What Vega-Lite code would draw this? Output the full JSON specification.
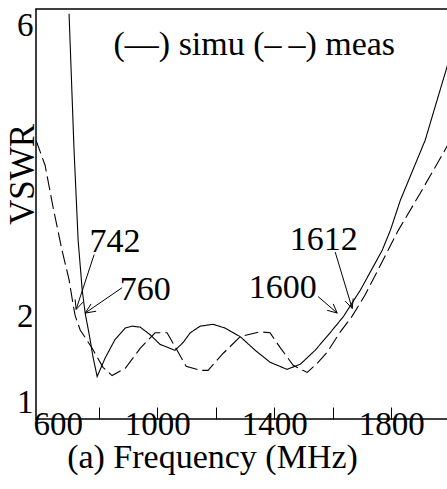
{
  "$schema": "https://vega.github.io/schema/vega-lite/v6.json",
  "autosize": {"type": "none"},
  "padding": {"left": 36, "top": 9, "right": 0, "bottom": 70},
  "width": 412,
  "height": 410,
  "background": "white",
  "config": {
    "view": {"stroke": "black", "strokeWidth": 1.5},
    "font": "'Liberation Serif', 'DejaVu Serif', serif"
  },
  "datasets": {
    "curves": [
      {"series": "simu", "f": 699, "v": 5.93},
      {"series": "simu", "f": 716, "v": 4.01},
      {"series": "simu", "f": 730, "v": 2.87},
      {"series": "simu", "f": 744, "v": 2.29},
      {"series": "simu", "f": 754, "v": 2.04},
      {"series": "simu", "f": 768, "v": 1.81},
      {"series": "simu", "f": 781, "v": 1.58},
      {"series": "simu", "f": 795, "v": 1.39},
      {"series": "simu", "f": 822, "v": 1.57},
      {"series": "simu", "f": 856, "v": 1.76},
      {"series": "simu", "f": 891, "v": 1.88},
      {"series": "simu", "f": 914, "v": 1.9},
      {"series": "simu", "f": 942, "v": 1.89},
      {"series": "simu", "f": 976, "v": 1.81},
      {"series": "simu", "f": 1010, "v": 1.71},
      {"series": "simu", "f": 1061, "v": 1.65},
      {"series": "simu", "f": 1089, "v": 1.73},
      {"series": "simu", "f": 1113, "v": 1.83},
      {"series": "simu", "f": 1147, "v": 1.9},
      {"series": "simu", "f": 1191, "v": 1.92},
      {"series": "simu", "f": 1232, "v": 1.88},
      {"series": "simu", "f": 1284, "v": 1.79},
      {"series": "simu", "f": 1335, "v": 1.65},
      {"series": "simu", "f": 1386, "v": 1.53},
      {"series": "simu", "f": 1444, "v": 1.46},
      {"series": "simu", "f": 1489, "v": 1.51},
      {"series": "simu", "f": 1540, "v": 1.65},
      {"series": "simu", "f": 1591, "v": 1.83},
      {"series": "simu", "f": 1636, "v": 2.0},
      {"series": "simu", "f": 1694, "v": 2.29},
      {"series": "simu", "f": 1769, "v": 2.75},
      {"series": "simu", "f": 1797, "v": 2.99},
      {"series": "simu", "f": 1831, "v": 3.36},
      {"series": "simu", "f": 1916, "v": 4.14},
      {"series": "simu", "f": 1957, "v": 4.69},
      {"series": "simu", "f": 1994, "v": 5.2},
      {"series": "meas", "f": 586, "v": 4.14},
      {"series": "meas", "f": 617, "v": 3.81},
      {"series": "meas", "f": 644, "v": 3.28},
      {"series": "meas", "f": 675, "v": 2.75},
      {"series": "meas", "f": 699, "v": 2.41},
      {"series": "meas", "f": 713, "v": 2.13},
      {"series": "meas", "f": 720, "v": 2.01},
      {"series": "meas", "f": 737, "v": 1.86},
      {"series": "meas", "f": 778, "v": 1.67},
      {"series": "meas", "f": 815, "v": 1.48},
      {"series": "meas", "f": 846, "v": 1.4},
      {"series": "meas", "f": 891, "v": 1.47},
      {"series": "meas", "f": 942, "v": 1.67},
      {"series": "meas", "f": 993, "v": 1.83},
      {"series": "meas", "f": 1034, "v": 1.83},
      {"series": "meas", "f": 1072, "v": 1.63},
      {"series": "meas", "f": 1099, "v": 1.49},
      {"series": "meas", "f": 1147, "v": 1.45},
      {"series": "meas", "f": 1174, "v": 1.45},
      {"series": "meas", "f": 1226, "v": 1.62},
      {"series": "meas", "f": 1284, "v": 1.79},
      {"series": "meas", "f": 1352, "v": 1.84},
      {"series": "meas", "f": 1386, "v": 1.83},
      {"series": "meas", "f": 1420, "v": 1.68},
      {"series": "meas", "f": 1465, "v": 1.5},
      {"series": "meas", "f": 1513, "v": 1.43},
      {"series": "meas", "f": 1547, "v": 1.52},
      {"series": "meas", "f": 1581, "v": 1.63},
      {"series": "meas", "f": 1626, "v": 1.84},
      {"series": "meas", "f": 1667, "v": 2.01},
      {"series": "meas", "f": 1711, "v": 2.24},
      {"series": "meas", "f": 1824, "v": 2.99},
      {"series": "meas", "f": 1899, "v": 3.45},
      {"series": "meas", "f": 1994, "v": 4.08}
    ],
    "arrows": [
      {"seg": "742s", "i": 0, "f": 784.6, "v": 2.7},
      {"seg": "742s", "i": 1, "f": 723.1, "v": 2.08},
      {"seg": "742h", "i": 0, "f": 747.0, "v": 2.16},
      {"seg": "742h", "i": 1, "f": 723.1, "v": 2.08},
      {"seg": "742h", "i": 2, "f": 719.7, "v": 2.19},
      {"seg": "760s", "i": 0, "f": 880.3, "v": 2.32},
      {"seg": "760s", "i": 1, "f": 753.8, "v": 2.04},
      {"seg": "760h", "i": 0, "f": 791.5, "v": 2.06},
      {"seg": "760h", "i": 1, "f": 753.8, "v": 2.04},
      {"seg": "760h", "i": 2, "f": 774.4, "v": 2.14},
      {"seg": "1612s", "i": 0, "f": 1608.5, "v": 2.73},
      {"seg": "1612s", "i": 1, "f": 1666.7, "v": 2.09},
      {"seg": "1612h", "i": 0, "f": 1670.1, "v": 2.2},
      {"seg": "1612h", "i": 1, "f": 1666.7, "v": 2.09},
      {"seg": "1612h", "i": 2, "f": 1642.7, "v": 2.17},
      {"seg": "1600s", "i": 0, "f": 1550.4, "v": 2.22},
      {"seg": "1600s", "i": 1, "f": 1615.4, "v": 2.04},
      {"seg": "1600h", "i": 0, "f": 1601.7, "v": 2.14},
      {"seg": "1600h", "i": 1, "f": 1615.4, "v": 2.04},
      {"seg": "1600h", "i": 2, "f": 1581.2, "v": 2.07}
    ],
    "notes": [
      {"text": "742", "f": 856, "v": 2.73},
      {"text": "760", "f": 959, "v": 2.18},
      {"text": "1612", "f": 1569, "v": 2.75},
      {"text": "1600", "f": 1429, "v": 2.2}
    ],
    "legendtext": [
      {"text": "(—) simu (–\u2009–) meas", "f": 1332, "v": 5.32}
    ]
  },
  "layer": [
    {
      "mark": {"type": "rule", "color": "black", "strokeWidth": 1.2},
      "encoding": {"y": {"datum": 2, "type": "quantitative"}}
    },
    {
      "data": {"name": "curves"},
      "mark": {"type": "line", "color": "black", "strokeWidth": 1.1, "clip": true},
      "encoding": {
        "x": {
          "field": "f", "type": "quantitative",
          "scale": {"domain": [586, 1994], "nice": false, "zero": false},
          "axis": {
            "title": "(a) Frequency (MHz)",
            "values": [600, 800, 1000, 1200, 1400, 1600, 1800],
            "format": "d",
            "labelExpr": "(datum.value==600||datum.value==1000||datum.value==1400||datum.value==1800) ? datum.label : ''",
            "labelOverlap": false,
            "tickSize": -12, "tickColor": "black", "tickWidth": 1,
            "tickOpacity": {"condition": {"test": "datum.value == 600", "value": 0}, "value": 1},
            "domain": false, "grid": false,
            "labelFont": "'Liberation Serif', 'DejaVu Serif', serif", "labelFontSize": 33, "labelColor": "black",
            "labelPadding": 1, "labelFlush": 10, "labelFlushOffset": 7,
            "titleFont": "'Liberation Serif', 'DejaVu Serif', serif", "titleFontSize": 34, "titleFontWeight": "normal", "titleColor": "black",
            "titleX": 176, "titleY": 48, "titleAlign": "center", "titleBaseline": "alphabetic"
          }
        },
        "y": {
          "field": "v", "type": "quantitative",
          "scale": {"type": "pow", "exponent": 0.7, "domain": [1, 6], "nice": false, "zero": false},
          "axis": {
            "title": "VSWR",
            "values": [1, 2, 6],
            "format": "d",
            "ticks": false, "domain": false, "grid": false,
            "labelFont": "'Liberation Serif', 'DejaVu Serif', serif", "labelFontSize": 33, "labelColor": "black",
            "labelPadding": 3, "labelFlush": true,
            "titleFont": "'Liberation Serif', 'DejaVu Serif', serif", "titleFontSize": 35, "titleFontWeight": "normal", "titleColor": "black",
            "titleX": -3, "titleY": 165, "titleAlign": "center", "titleBaseline": "alphabetic", "titleAngle": 270
          }
        },
        "strokeDash": {
          "field": "series", "type": "nominal",
          "scale": {"domain": ["simu", "meas"], "range": [[1, 0], [14, 5]]},
          "legend": null
        }
      }
    },
    {
      "data": {"name": "arrows"},
      "mark": {"type": "line", "color": "black", "strokeWidth": 1},
      "encoding": {
        "x": {"field": "f", "type": "quantitative"},
        "y": {"field": "v", "type": "quantitative"},
        "detail": {"field": "seg"},
        "order": {"field": "i"}
      }
    },
    {
      "data": {"name": "notes"},
      "mark": {"type": "text", "font": "'Liberation Serif', 'DejaVu Serif', serif", "fontSize": 34, "align": "center", "baseline": "alphabetic", "color": "black"},
      "encoding": {
        "x": {"field": "f", "type": "quantitative"},
        "y": {"field": "v", "type": "quantitative"},
        "text": {"field": "text"}
      }
    },
    {
      "data": {"name": "legendtext"},
      "mark": {"type": "text", "font": "'Liberation Serif', 'DejaVu Serif', serif", "fontSize": 34, "align": "center", "baseline": "alphabetic", "color": "black"},
      "encoding": {
        "x": {"field": "f", "type": "quantitative"},
        "y": {"field": "v", "type": "quantitative"},
        "text": {"field": "text"}
      }
    }
  ]
}
